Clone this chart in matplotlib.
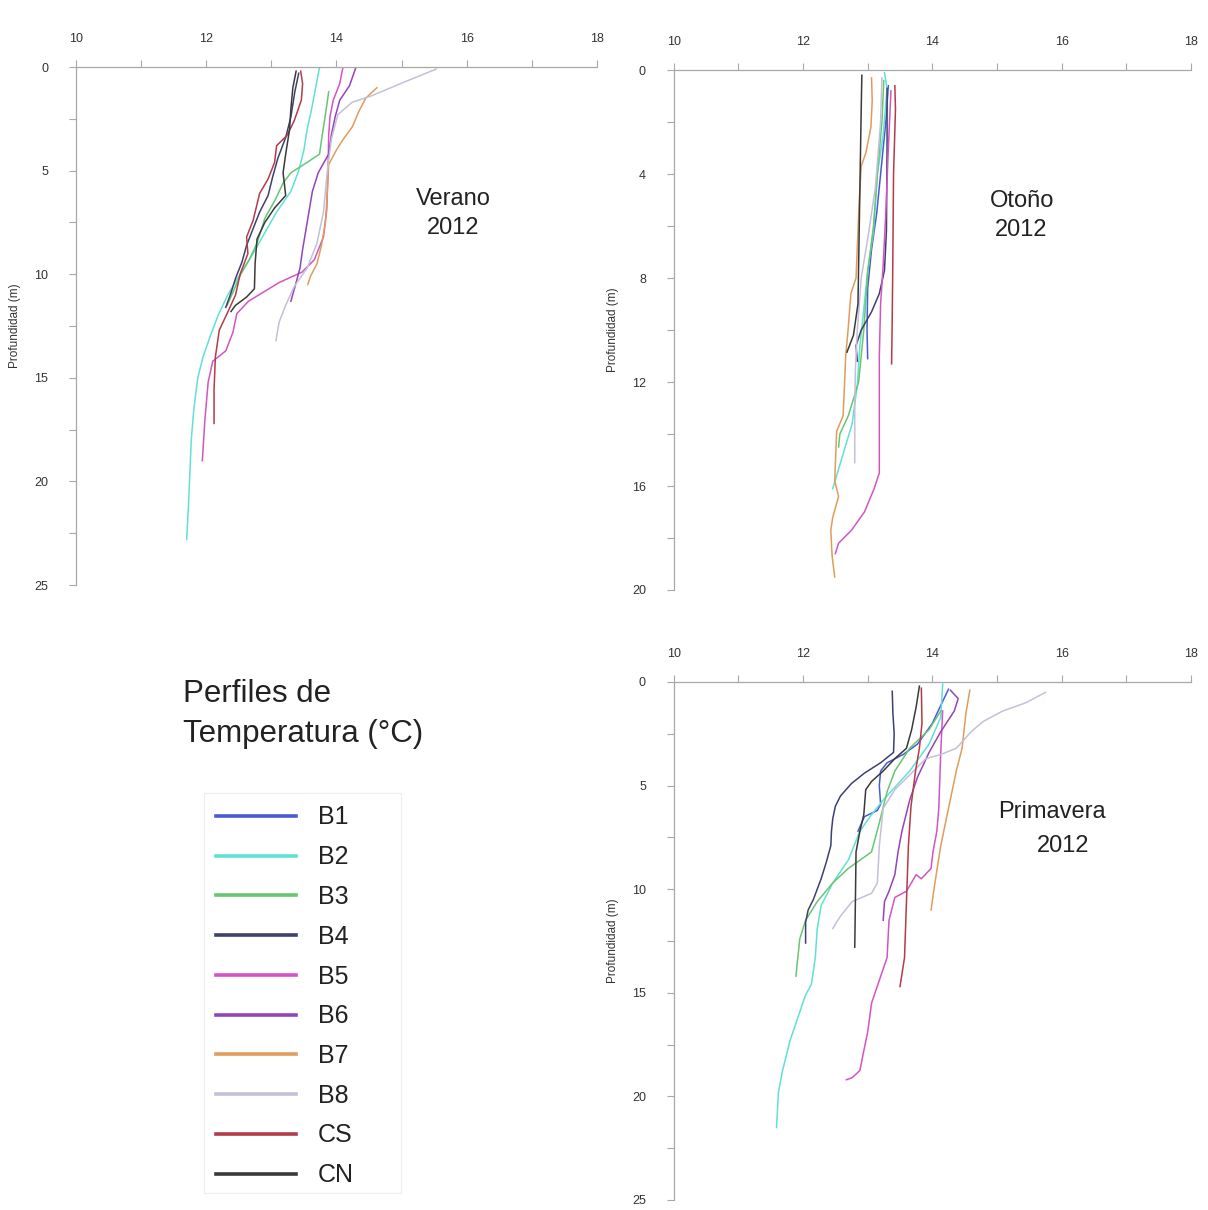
import numpy as np
import matplotlib
matplotlib.use("Agg")
import matplotlib.pyplot as plt
from matplotlib.lines import Line2D
from matplotlib.patches import Rectangle

plt.rcParams["font.family"] = ["Liberation Sans", "DejaVu Sans"]

STATIONS = ["B1", "B2", "B3", "B4", "B5", "B6", "B7", "B8", "CS", "CN"]
COLORS = ["#4a5ad6", "#62e0d4", "#68c672", "#3e4170", "#d454c4",
          "#9444b8", "#e09c5c", "#c4c0d8", "#b23c48", "#3a3a3a"]

# ---- Verano 2012 (temperature degC, depth m) ----
VER_B2_T = [13.74, 13.68, 13.62, 13.55, 13.50, 13.42, 13.30, 13.08, 12.90, 12.72, 12.52,
            12.33, 12.18, 12.06, 11.95, 11.87, 11.81, 11.77, 11.75, 11.73, 11.70]
VER_B2_D = [0.0, 1.0, 2.0, 3.0, 4.0, 5.0, 6.0, 7.0, 8.0, 9.0, 10.0,
            11.0, 12.0, 13.0, 14.0, 15.0, 16.5, 18.0, 19.5, 21.0, 22.8]
VER_B3_T = [13.88, 13.83, 13.78, 13.74, 13.55, 13.30, 13.18, 13.06, 12.90, 12.78, 12.66, 12.53, 12.42, 12.32]
VER_B3_D = [1.2, 2.3, 3.3, 4.2, 4.6, 5.1, 5.6, 6.4, 7.3, 8.5, 9.3, 10.0, 10.8, 11.5]
VER_B4_T = [13.42, 13.36, 13.30, 13.22, 13.10, 13.02, 12.95, 12.82, 12.72, 12.62, 12.55, 12.45, 12.38, 12.30]
VER_B4_D = [0.3, 1.2, 2.4, 3.4, 4.4, 5.3, 6.2, 7.0, 7.8, 8.6, 9.4, 10.2, 10.9, 11.6]
VER_B5_T = [14.10, 14.05, 13.95, 13.90, 13.88, 13.87, 13.85, 13.80, 13.66, 13.47, 13.12, 12.65,
            12.47, 12.41, 12.30, 12.10, 12.03, 11.98, 11.94]
VER_B5_D = [0.0, 0.8, 1.6, 2.4, 3.3, 5.0, 6.9, 8.2, 9.3, 9.9, 10.4, 11.3,
            11.9, 12.8, 13.7, 14.2, 15.2, 17.0, 19.0]
VER_B6_T = [14.30, 14.20, 14.05, 13.98, 13.92, 13.88, 13.72, 13.63, 13.55, 13.48, 13.44, 13.38, 13.30]
VER_B6_D = [0.0, 0.9, 1.6, 2.4, 3.3, 4.2, 5.1, 6.0, 7.5, 8.8, 9.7, 10.4, 11.3]
VER_B7_T = [14.62, 14.45, 14.35, 14.24, 14.10, 14.00, 13.88, 13.86, 13.83, 13.77, 13.70, 13.60, 13.56]
VER_B7_D = [1.0, 1.5, 2.1, 2.9, 3.5, 4.0, 4.7, 6.0, 7.5, 8.6, 9.5, 10.1, 10.5]
VER_B8_T = [15.53, 15.06, 14.53, 14.24, 14.02, 13.92, 13.86, 13.80, 13.70, 13.55, 13.35, 13.22, 13.12, 13.07]
VER_B8_D = [0.1, 0.7, 1.4, 1.7, 2.3, 3.5, 5.0, 7.0, 8.5, 9.7, 10.6, 11.5, 12.3, 13.2]
VER_CS_T = [13.45, 13.48, 13.46, 13.35, 13.24, 13.08, 13.05, 12.95, 12.82, 12.72, 12.62, 12.64,
            12.52, 12.45, 12.32, 12.20, 12.14, 12.12, 12.12]
VER_CS_D = [0.2, 0.8, 1.6, 2.6, 3.3, 3.8, 4.6, 5.4, 6.1, 7.4, 8.2, 9.0,
            10.0, 11.0, 11.9, 12.7, 14.0, 15.6, 17.2]
VER_CN_T = [13.38, 13.33, 13.30, 13.28, 13.22, 13.18, 13.22, 13.05, 12.90, 12.78, 12.75, 12.74, 12.62, 12.45, 12.38]
VER_CN_D = [0.2, 1.0, 2.0, 3.0, 4.2, 5.1, 6.2, 6.8, 7.5, 8.3, 9.5, 10.7, 11.1, 11.5, 11.8]

# ---- Otono 2012 ----
OTO_B1_T = [13.32, 13.28, 13.22, 13.14, 13.06, 13.00, 12.99, 13.00]
OTO_B1_D = [0.6, 2.0, 3.5, 5.5, 6.9, 8.4, 10.0, 11.1]
OTO_B2_T = [13.26, 13.30, 13.24, 13.15, 13.09, 13.00, 12.94, 12.88, 12.84, 12.76, 12.58, 12.46]
OTO_B2_D = [0.1, 0.7, 2.5, 4.0, 6.2, 7.7, 9.2, 10.6, 12.1, 13.6, 15.1, 16.1]
OTO_B3_T = [13.25, 13.22, 13.15, 13.09, 13.00, 12.94, 12.86, 12.70, 12.57, 12.55]
OTO_B3_D = [0.4, 2.0, 4.0, 6.0, 7.8, 10.0, 12.0, 13.3, 14.0, 14.5]
OTO_B4_T = [13.30, 13.30, 13.29, 13.26, 13.18, 13.06, 12.90, 12.82, 12.84]
OTO_B4_D = [0.7, 3.0, 6.2, 7.7, 8.6, 9.3, 10.0, 10.6, 11.2]
OTO_B5_T = [13.36, 13.32, 13.28, 13.24, 13.20, 13.18, 13.18, 13.10, 12.95, 12.75, 12.55, 12.50]
OTO_B5_D = [0.8, 3.0, 5.5, 7.5, 9.0, 11.0, 15.5, 16.1, 17.0, 17.7, 18.2, 18.6]
OTO_B7_T = [13.06, 13.07, 13.05, 12.97, 12.90, 12.87, 12.85, 12.82, 12.74, 12.70, 12.66, 12.64,
            12.62, 12.52, 12.49, 12.55, 12.46, 12.43, 12.45, 12.49]
OTO_B7_D = [0.3, 1.2, 2.2, 3.2, 3.7, 5.0, 6.2, 8.0, 8.6, 9.9, 11.0, 12.2,
            13.3, 13.9, 15.8, 16.4, 17.2, 17.7, 18.7, 19.5]
OTO_B8_T = [13.22, 13.20, 13.12, 13.00, 12.90, 12.84, 12.81, 12.80, 12.80]
OTO_B8_D = [0.3, 2.0, 4.5, 6.5, 8.0, 10.0, 11.5, 13.0, 15.1]
OTO_CS_T = [13.42, 13.43, 13.40, 13.39, 13.38, 13.37]
OTO_CS_D = [0.6, 1.5, 4.0, 7.0, 9.5, 11.3]
OTO_CN_T = [12.91, 12.90, 12.89, 12.88, 12.87, 12.86, 12.85, 12.78, 12.68]
OTO_CN_D = [0.2, 1.5, 3.0, 4.5, 6.0, 7.5, 9.0, 10.2, 10.85]

# ---- Primavera 2012 ----
PRI_B1_T = [14.25, 14.15, 14.00, 13.77, 13.55, 13.30, 13.20, 13.18, 13.20, 13.15, 12.95, 12.85]
PRI_B1_D = [0.35, 1.0, 2.0, 3.0, 3.5, 3.9, 4.3, 5.0, 5.9, 6.2, 6.5, 7.2]
PRI_B2_T = [14.16, 14.13, 13.95, 13.65, 13.24, 13.06, 12.88, 12.70, 12.46, 12.28, 12.22, 12.19,
            12.13, 12.04, 11.92, 11.80, 11.68, 11.62, 11.59]
PRI_B2_D = [0.1, 1.7, 3.0, 4.3, 5.7, 6.4, 7.2, 8.6, 9.7, 10.8, 11.9, 13.3,
            14.6, 15.1, 16.2, 17.3, 18.8, 19.8, 21.5]
PRI_B3_T = [14.13, 13.95, 13.65, 13.42, 13.30, 13.18, 13.06, 12.70, 12.46, 12.22, 12.04, 11.95, 11.92, 11.89]
PRI_B3_D = [1.4, 2.3, 3.2, 4.3, 5.3, 6.8, 8.2, 9.0, 9.7, 10.6, 11.5, 12.4, 13.3, 14.2]
PRI_B4_T = [13.38, 13.39, 13.41, 13.40, 13.20, 12.95, 12.75, 12.58, 12.50, 12.46, 12.44, 12.43,
            12.36, 12.28, 12.16, 12.08, 12.04, 12.04]
PRI_B4_D = [0.45, 1.5, 2.5, 3.4, 3.9, 4.4, 4.9, 5.5, 6.0, 6.6, 7.2, 7.9,
            8.7, 9.5, 10.5, 11.0, 11.6, 12.6]
PRI_B5_T = [14.16, 14.13, 14.10, 14.07, 14.01, 13.98, 13.83, 13.75, 13.60, 13.42, 13.33, 13.30,
            13.18, 13.06, 13.00, 12.94, 12.88, 12.76, 12.67]
PRI_B5_D = [1.4, 3.4, 6.1, 7.2, 8.2, 9.0, 9.5, 9.3, 10.1, 10.4, 11.5, 13.3,
            14.4, 15.5, 16.9, 17.8, 18.75, 19.1, 19.2]
PRI_B6_T = [14.28, 14.40, 14.34, 14.13, 13.95, 13.77, 13.65, 13.53, 13.47, 13.42, 13.33, 13.26, 13.24]
PRI_B6_D = [0.4, 0.8, 1.4, 2.4, 3.4, 4.6, 5.7, 7.2, 8.2, 9.3, 10.1, 10.6, 11.5]
PRI_B7_T = [14.58, 14.52, 14.46, 14.37, 14.25, 14.13, 14.04, 13.98]
PRI_B7_D = [0.4, 1.5, 3.2, 4.3, 6.1, 7.9, 9.7, 11.0]
PRI_B8_T = [15.75, 15.45, 15.09, 14.79, 14.60, 14.37, 14.13, 13.90, 13.71, 13.42, 13.24, 13.18,
            13.15, 13.06, 12.76, 12.58, 12.46]
PRI_B8_D = [0.5, 1.0, 1.4, 1.9, 2.4, 3.2, 3.5, 3.7, 4.3, 5.2, 6.1, 7.9,
            9.7, 10.2, 10.6, 11.3, 11.9]
PRI_CS_T = [13.83, 13.84, 13.80, 13.74, 13.67, 13.63, 13.61, 13.59, 13.57, 13.50]
PRI_CS_D = [0.3, 2.0, 3.2, 4.3, 6.0, 7.9, 9.7, 11.5, 13.3, 14.7]
PRI_CN_T = [13.80, 13.75, 13.68, 13.60, 13.42, 13.24, 13.06, 12.97, 12.94, 12.88, 12.82, 12.81, 12.80]
PRI_CN_D = [0.2, 1.2, 2.3, 3.2, 3.7, 4.3, 4.8, 5.2, 6.4, 7.2, 8.2, 10.6, 12.8]

verano = {"B2": (VER_B2_T, VER_B2_D), "B3": (VER_B3_T, VER_B3_D), "B4": (VER_B4_T, VER_B4_D),
          "B5": (VER_B5_T, VER_B5_D), "B6": (VER_B6_T, VER_B6_D), "B7": (VER_B7_T, VER_B7_D),
          "B8": (VER_B8_T, VER_B8_D), "CS": (VER_CS_T, VER_CS_D), "CN": (VER_CN_T, VER_CN_D)}
otono = {"B1": (OTO_B1_T, OTO_B1_D), "B2": (OTO_B2_T, OTO_B2_D), "B3": (OTO_B3_T, OTO_B3_D),
         "B4": (OTO_B4_T, OTO_B4_D), "B5": (OTO_B5_T, OTO_B5_D), "B7": (OTO_B7_T, OTO_B7_D),
         "B8": (OTO_B8_T, OTO_B8_D), "CS": (OTO_CS_T, OTO_CS_D), "CN": (OTO_CN_T, OTO_CN_D)}
primavera = {"B1": (PRI_B1_T, PRI_B1_D), "B2": (PRI_B2_T, PRI_B2_D), "B3": (PRI_B3_T, PRI_B3_D),
             "B4": (PRI_B4_T, PRI_B4_D), "B5": (PRI_B5_T, PRI_B5_D), "B6": (PRI_B6_T, PRI_B6_D),
             "B7": (PRI_B7_T, PRI_B7_D), "B8": (PRI_B8_T, PRI_B8_D), "CS": (PRI_CS_T, PRI_CS_D),
             "CN": (PRI_CN_T, PRI_CN_D)}

color_of = dict(zip(STATIONS, COLORS))
AXIS_GREY = "#a8a8a8"
W, H = 1208, 1210


def style_axis(ax, ymax, ystep):
    ax.set_xlim(10, 18)
    ax.set_ylim(ymax, 0)
    ax.xaxis.tick_top()
    for s in ("right", "bottom"):
        ax.spines[s].set_visible(False)
    for s in ("top", "left"):
        ax.spines[s].set_color(AXIS_GREY)
        ax.spines[s].set_linewidth(0.9)
    ax.set_xticks(np.arange(10, 19, 2))
    ax.set_xticks(np.arange(11, 18, 2), minor=True)
    ax.set_yticks(np.arange(0, ymax + 0.1, ystep))
    ax.set_yticks(np.arange(ystep / 2, ymax, ystep), minor=True)
    ax.tick_params(which="both", colors=AXIS_GREY, labelcolor="#333333",
                   length=5, width=0.8, labelsize=9)
    ax.tick_params(axis="x", which="both", pad=11)
    ax.tick_params(axis="y", which="both", pad=15)
    ax.set_ylabel("Profundidad (m)", fontsize=8.5, color="#333333")
    ax.yaxis.set_label_coords(-0.105, 0.5)
    ax.patch.set_alpha(0)


def draw_profiles(ax, season):
    for name in STATIONS:
        if name in season:
            t, d = season[name]
            ax.plot(t, d, color=color_of[name], lw=1.1)


fig = plt.figure(figsize=(W / 100, H / 100), dpi=100)
ax1 = fig.add_axes([0.0629, 0.5165, 0.4313, 0.4281])
ax2 = fig.add_axes([0.5577, 0.5124, 0.4282, 0.4297])
ax3 = fig.add_axes([0.5577, 0.0083, 0.4282, 0.4281])

style_axis(ax1, 25, 5)
style_axis(ax2, 20, 4)
style_axis(ax3, 25, 5)

draw_profiles(ax1, verano)
draw_profiles(ax2, otono)
draw_profiles(ax3, primavera)

ax1.text(15.79, 7.05, "Verano\n2012", ha="center", va="center", fontsize=17,
         color="#222222", linespacing=1.4)
ax2.text(15.38, 5.6, "Otoño\n2012", ha="center", va="center", fontsize=17,
         color="#222222", linespacing=1.4)
ax3.text(15.01, 6.3, "Primavera", ha="left", va="center", fontsize=17, color="#222222")
ax3.text(15.62, 7.9, "2012", ha="left", va="center", fontsize=17, color="#222222")

fig.text(183 / W, 1 - 714 / H, "Perfiles de\nTemperatura (°C)", ha="left", va="center",
         fontsize=22.5, color="#222222", linespacing=1.4)

# legend box drawn separately so its size matches the reference
fig.patches.append(Rectangle((204 / W, 1 - 1193 / H), 197 / W, 400 / H,
                             transform=fig.transFigure, fill=False,
                             edgecolor="#ececec", lw=0.8))
handles = [Line2D([0], [0], color=color_of[s], lw=2.6) for s in STATIONS]
leg = fig.legend(handles, STATIONS, loc="upper left",
                 bbox_to_anchor=(208 / W, 1 - 798 / H), borderaxespad=0,
                 fontsize=18, handlelength=3.2, handletextpad=0.9, labelspacing=0.63,
                 borderpad=0.3, frameon=False)
for txt in leg.get_texts():
    txt.set_color("#222222")

fig.savefig("out.png", dpi=100)
plt.close(fig)
